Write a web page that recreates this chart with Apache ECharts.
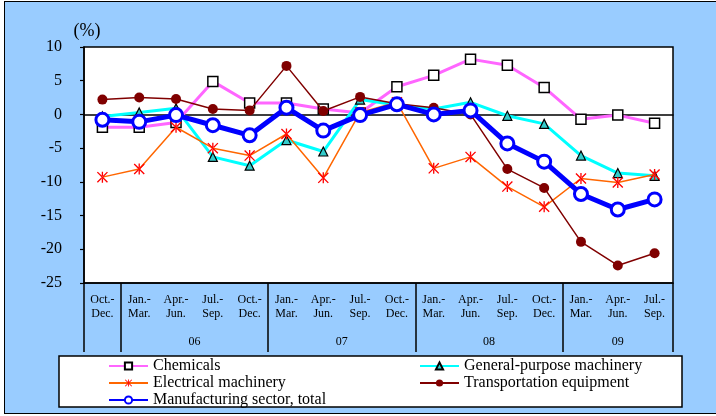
<!DOCTYPE html>
<html><head><meta charset="utf-8">
<script src="https://cdn.jsdelivr.net/npm/echarts@6/dist/echarts.min.js"></script>
<style>
html,body{margin:0;padding:0;background:#fff;overflow:hidden}
#frame{position:absolute;left:4px;top:1px;width:730px;height:413px;box-sizing:border-box;border:1.5px solid #000;background:#99CCFF}
#chart{position:absolute;left:0;top:0;width:716px;height:416px}
</style></head>
<body><div id="frame"></div><div id="chart"></div>
<script>
const categories = ['Oct.-\nDec.','Jan.-\nMar.','Apr.-\nJun.','Jul.-\nSep.','Oct.-\nDec.','Jan.-\nMar.','Apr.-\nJun.','Jul.-\nSep.','Oct.-\nDec.','Jan.-\nMar.','Apr.-\nJun.','Jul.-\nSep.','Oct.-\nDec.','Jan.-\nMar.','Apr.-\nJun.','Jul.-\nSep.'];
const yearLabels = ['', '06', '07', '08', '09'];
const yearSpans = [1, 4, 4, 4, 3];
const chemicals = [-1.9, -1.9, -1.2, 4.9, 1.7, 1.7, 0.8, 0.2, 4.1, 5.8, 8.2, 7.3, 4.0, -0.7, -0.1, -1.3];
const generalMachinery = [-0.3, 0.3, 0.9, -6.3, -7.6, -3.8, -5.5, 2.2, 1.4, 0.8, 1.8, -0.2, -1.4, -6.1, -8.7, -9.1];
const electricalMachinery = [-9.3, -8.1, -1.9, -5.0, -6.1, -2.9, -9.4, 0.3, 1.8, -8.0, -6.3, -10.7, -13.7, -9.5, -10.1, -8.9];
const transportEquipment = [2.2, 2.5, 2.3, 0.8, 0.6, 7.2, 0.5, 2.6, 1.6, 1.0, 0.0, -8.1, -10.9, -18.9, -22.4, -20.6];
const manufacturingTotal = [-0.8, -1.1, -0.1, -1.6, -3.1, 1.0, -2.4, -0.1, 1.5, 0.0, 0.6, -4.3, -7.0, -11.8, -14.1, -12.6];
const yTicks = {min: -25, max: 10, interval: 5};

// year group boundaries and label centres derived from spans
const yearBounds = [0];
const yearCentres = [];
const yearMap = {};
yearSpans.forEach((s, i) => {
  const start = yearBounds[yearBounds.length - 1];
  yearBounds.push(start + s);
  if (yearLabels[i]) { const c = start + s / 2; yearCentres.push(c); yearMap[c] = yearLabels[i]; }
});

const FONT = "'Liberation Serif','Times New Roman',serif";
const asterisk = 'path://M4.4,0 L5.6,0 L5.6,10 L4.4,10 Z M0,0.85 L0.85,0 L10,9.15 L9.15,10 Z M10,0.85 L9.15,0 L0,9.15 L0.85,10 Z';

const chart = echarts.init(document.getElementById('chart'), null, {renderer: 'canvas'});
chart.setOption({
  animation: false,
  backgroundColor: 'transparent',
  textStyle: {fontFamily: FONT, color: '#000'},
  grid: {left: 84, top: 47, width: 589, height: 236, show: true, backgroundColor: '#fff', borderColor: '#000', borderWidth: 1.5},
  graphic: [{type: 'rect', z: 1, shape: {x: 59, y: 356, width: 623, height: 51}, style: {fill: '#fff', stroke: '#000', lineWidth: 1.5}}],
  legend: [
    {data: ['Chemicals', 'Electrical machinery', 'Manufacturing sector, total'], orient: 'vertical', left: 108, top: 358, padding: 0,
     itemWidth: 39, itemHeight: 9, itemGap: 1, textStyle: {fontFamily: FONT, fontSize: 16, lineHeight: 16, color: '#000'}},
    {data: ['General-purpose machinery', 'Transportation equipment'], orient: 'vertical', left: 419, top: 358, padding: 0,
     itemWidth: 39, itemHeight: 9, itemGap: 1, textStyle: {fontFamily: FONT, fontSize: 16, lineHeight: 16, color: '#000'}}
  ],
  xAxis: [
    {type: 'category', data: categories, position: 'bottom', boundaryGap: true,
     axisLine: {onZero: true, lineStyle: {color: '#000', width: 1.5}},
     axisTick: {inside: true, length: 5, lineStyle: {color: '#000', width: 1.2}},
     axisLabel: {show: false}, splitLine: {show: false}},
    {type: 'category', data: categories, position: 'bottom', boundaryGap: true,
     axisLine: {onZero: false, show: true, lineStyle: {color: '#000', width: 1.5}},
     axisTick: {length: 42, lineStyle: {color: '#000', width: 1.5}},
     axisLabel: {fontFamily: FONT, fontSize: 12, lineHeight: 14, margin: 10, color: '#000', interval: 0},
     splitLine: {show: false}},
    {type: 'value', min: 0, max: 16, position: 'bottom',
     axisLine: {onZero: false, show: false},
     axisTick: {show: true, customValues: yearBounds, length: 69, lineStyle: {color: '#000', width: 1.5}},
     axisLabel: {customValues: yearCentres, formatter: v => yearMap[v] || '', fontFamily: FONT, fontSize: 12, margin: 53, color: '#000'},
     splitLine: {show: false}}
  ],
  yAxis: {type: 'value', min: yTicks.min, max: yTicks.max, interval: yTicks.interval,
    name: '(%)', nameLocation: 'end', nameGap: 7,
    nameTextStyle: {fontFamily: FONT, fontSize: 18, color: '#000', padding: [0, 0, 0, 6]},
    axisLine: {show: true, lineStyle: {color: '#000', width: 1.5}},
    axisTick: {show: true, length: 4, lineStyle: {color: '#000', width: 1.2}},
    axisLabel: {fontFamily: FONT, fontSize: 16, margin: 22, color: '#000'},
    splitLine: {show: false}},
  series: [
    {name: 'Chemicals', type: 'line', data: chemicals, symbol: 'rect', symbolSize: 10, z: 2,
     lineStyle: {color: '#FF66FF', width: 3}, itemStyle: {color: '#fff', borderColor: '#000', borderWidth: 1.5}},
    {name: 'General-purpose machinery', type: 'line', data: generalMachinery, symbol: 'triangle', symbolSize: 9, z: 3,
     lineStyle: {color: '#00FFFF', width: 3}, itemStyle: {color: '#33CCCC', borderColor: '#000', borderWidth: 1.2}},
    {name: 'Electrical machinery', type: 'line', data: electricalMachinery, symbol: asterisk, symbolSize: 11, z: 4,
     lineStyle: {color: '#FF6600', width: 1.5}, itemStyle: {color: '#FF0000'}},
    {name: 'Transportation equipment', type: 'line', data: transportEquipment, symbol: 'circle', symbolSize: 10, z: 5,
     lineStyle: {color: '#800000', width: 1.5}, itemStyle: {color: '#800000'}},
    {name: 'Manufacturing sector, total', type: 'line', data: manufacturingTotal, symbol: 'circle', symbolSize: 13, z: 6,
     lineStyle: {color: '#0000FF', width: 5}, itemStyle: {color: '#fff', borderColor: '#0000FF', borderWidth: 3}}
  ]
});
</script>
</body></html>
